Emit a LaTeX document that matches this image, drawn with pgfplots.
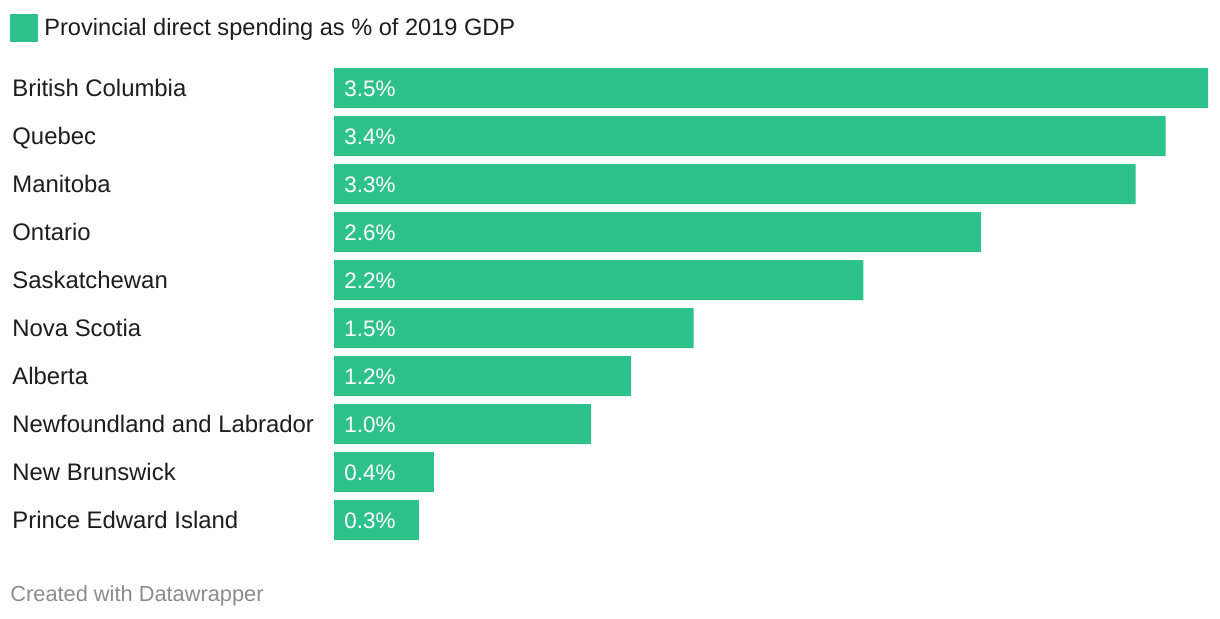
\documentclass[border=0pt]{standalone}
\usepackage{fontspec}
\setmainfont{Liberation Sans}
\usepackage{pgfplots}
\usepackage{pgfplotstable}
\pgfplotsset{compat=1.18}
\definecolor{dwgreen}{HTML}{2DC28C}
\definecolor{dwtext}{HTML}{1D1D1D}
\definecolor{dwgray}{HTML}{8C8C8C}
\pgfplotstableread{
idx val lab
0 3.50 3.5
1 3.33 3.4
2 3.21 3.3
3 2.59 2.6
4 2.12 2.2
5 1.44 1.5
6 1.19 1.2
7 1.03 1.0
8 0.40 0.4
9 0.34 0.3
}\datatable
\begin{document}
\begin{tikzpicture}
\path[fill=white] (0pt,0pt) rectangle (610pt,-309pt);
\begin{axis}[
  at={(167pt,-34pt)}, anchor=north west,
  scale only axis, width=437pt, height=236pt,
  xmin=0, xmax=3.5,
  ymin=-0.41667, ymax=9.41667, y dir=reverse,
  axis line style={draw=none}, tick style={draw=none},
  xtick=\empty,
  ytick={0,1,2,3,4,5,6,7,8,9},
  yticklabels={British Columbia,Quebec,Manitoba,Ontario,Saskatchewan,Nova Scotia,Alberta,Newfoundland and Labrador,New Brunswick,Prince Edward Island},
  yticklabel style={anchor=base west, inner sep=0pt, xshift=-161pt, yshift=-4.2pt, font=\fontsize{11.95pt}{14pt}\selectfont, text=dwtext},
  clip=false,
  legend style={at={(axis description cs:-0.37071,1.11441)}, anchor=north west, draw=none, fill=none, inner sep=0pt, font=\fontsize{11.8pt}{14pt}\selectfont, text=dwtext, cells={anchor=west}},
  legend image code/.code={\fill[dwgreen] (0pt,-7pt) rectangle (14pt,7pt);},
]
\addplot[xbar, bar width=20pt, fill=dwgreen, draw=none] table[x=val, y=idx]{\datatable};
\addlegendentry{\hspace{1pt}Provincial direct spending as \% of 2019 GDP}
\addplot[forget plot, draw=none, mark=none, point meta=explicit symbolic,
  nodes near coords={\pgfplotspointmeta\%},
  every node near coord/.style={anchor=base west, inner sep=0pt, xshift=5pt, yshift=-4.2pt, text=white, font=\fontsize{11.2pt}{14pt}\selectfont}]
  table[x expr=0, y=idx, meta=lab]{\datatable};
\end{axis}
\node[anchor=base west, inner sep=0pt, text=dwgray, font=\fontsize{10.9pt}{13pt}\selectfont] at (5pt,-300.5pt) {Created with Datawrapper};
\end{tikzpicture}
\end{document}
